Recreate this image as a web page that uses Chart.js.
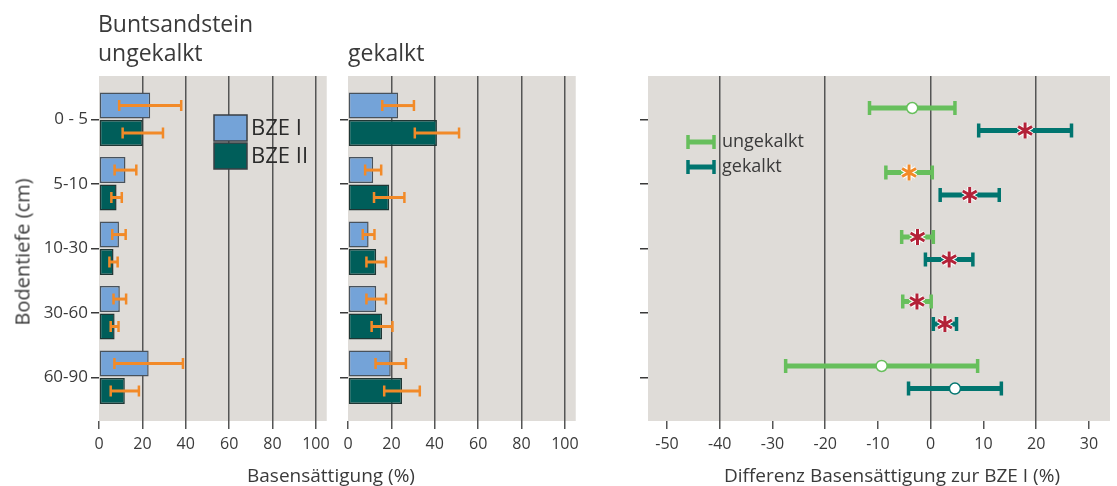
<!DOCTYPE html>
<html>
<head>
<meta charset="utf-8">
<script src="https://cdn.jsdelivr.net/npm/chart.js@4.4.1/dist/chart.umd.min.js"></script>
<style>
  body { margin: 0; background: #fff; font-family: "Open Sans", sans-serif; color: #3a3a3a; }
  #wrap { position: relative; width: 1117px; height: 486px; overflow: hidden; }
  .box { position: absolute; top: 0; height: 486px; }
  .txt { position: absolute; white-space: nowrap; }
</style>
</head>
<body>
<div id="wrap">
  <div class="box" style="left:0;width:336px"><canvas id="c1"></canvas></div>
  <div class="box" style="left:336px;width:249px"><canvas id="c2"></canvas></div>
  <div class="box" style="left:600px;width:517px"><canvas id="c3"></canvas></div>
  <div class="txt" style="left:98px;top:9px;font-size:23px;line-height:29px">Buntsandstein<br>ungekalkt</div>
  <div class="txt" style="left:348px;top:38px;font-size:23px;line-height:29px">gekalkt</div>
  <div class="txt" style="left:22px;top:252px;font-size:20px;transform:translate(-50%,-50%) rotate(-90deg)">Bodentiefe (cm)</div>
  <div class="txt" style="left:331px;top:463px;font-size:19px;line-height:24px;transform:translateX(-50%)">Basensättigung (%)</div>
  <div class="txt" style="left:892px;top:463px;font-size:19px;line-height:24px;transform:translateX(-50%)">Differenz Basensättigung zur BZE I (%)</div>
</div>
<script>
const depths = ['0 - 5', '5-10', '10-30', '30-60', '60-90'];

// Basensättigung (%), ungekalkt
const ungBzeI = [23.6, 12.2, 9.2, 9.6, 22.9];
const ungBzeIErr = [14.3, 5.0, 3.1, 2.9, 15.8];
const ungBzeII = [20.2, 8.1, 6.7, 7.2, 11.9];
const ungBzeIIErr = [9.3, 2.4, 1.9, 1.8, 6.5];

// Basensättigung (%), gekalkt
const gekBzeI = [23.1, 11.6, 9.5, 13.0, 19.7];
const gekBzeIErr = [7.3, 3.7, 2.7, 4.5, 7.0];
const gekBzeII = [41.0, 19.0, 13.0, 15.7, 24.9];
const gekBzeIIErr = [10.2, 7.0, 4.5, 4.8, 8.2];

// Differenz zur BZE I (%)
const diffUng = [-3.5, -4.1, -2.5, -2.6, -9.3];
const diffUngErr = [8.1, 4.4, 3.0, 2.7, 18.2];
const diffGek = [17.9, 7.4, 3.5, 2.7, 4.6];
const diffGekErr = [8.8, 5.6, 4.5, 2.2, 8.8];
// marker: n = nicht signifikant (Kreis), r = rotes Sternchen, o = oranges Sternchen
const sigUng = ['n', 'o', 'r', 'r', 'n'];
const sigGek = ['r', 'r', 'r', 'r', 'n'];

const TXT = '#3a3a3a';
const GRID = '#555';
const BG = '#dfdcd8';
const ORANGE = '#f28a28';
const GREEN = '#67bf5c';
const TEAL = '#00756f';
const RED = '#b32238';

Chart.defaults.font.family = '"Open Sans", sans-serif';
Chart.defaults.color = TXT;
Chart.defaults.animation = false;

const pts = (vals) => vals.map((v, i) => ({ x: v, y: i }));
const range = (vals, errs) => vals.map((v, i) => ({ x: [v - errs[i], v + errs[i]], y: i }));

// grauer Hintergrund der Zeichenfläche
const plotBg = {
    id: 'plotBg',
    beforeDraw(chart) {
        const a = chart.chartArea;
        chart.ctx.save();
        chart.ctx.fillStyle = BG;
        chart.ctx.fillRect(a.left, a.top, a.right - a.left, a.bottom - a.top);
        chart.ctx.restore();
    }
};

// orange Fehlerbalken an den Balkenenden
const errorBars = {
    id: 'errorBars',
    afterDatasetsDraw(chart) {
        const ctx = chart.ctx, xs = chart.scales.x;
        ctx.save();
        ctx.strokeStyle = ORANGE;
        chart.data.datasets.forEach((ds, di) => {
            chart.getDatasetMeta(di).data.forEach((bar, i) => {
                const v = ds.data[i].x, e = ds.errors[i];
                const x0 = xs.getPixelForValue(v - e), x1 = xs.getPixelForValue(v + e);
                ctx.lineWidth = 3;
                ctx.beginPath(); ctx.moveTo(x0, bar.y); ctx.lineTo(x1, bar.y); ctx.stroke();
                ctx.lineWidth = 2.5;
                ctx.beginPath();
                ctx.moveTo(x0, bar.y - 5.5); ctx.lineTo(x0, bar.y + 5.5);
                ctx.moveTo(x1, bar.y - 5.5); ctx.lineTo(x1, bar.y + 5.5);
                ctx.stroke();
            });
        });
        ctx.restore();
    }
};

const boxLegend = {
    id: 'boxLegend',
    afterDraw(chart) {
        const ctx = chart.ctx, a = chart.chartArea;
        ctx.save();
        chart.data.datasets.forEach((ds, i) => {
            const x = a.left + 115, y = a.top + 39 + i * 28;
            ctx.fillStyle = ds.backgroundColor;
            ctx.fillRect(x, y, 33, 26);
            ctx.strokeStyle = '#3a3f44';
            ctx.lineWidth = 1.5;
            ctx.strokeRect(x, y, 33, 26);
            ctx.fillStyle = '#2b2b2b';
            ctx.font = '22px "Open Sans"';
            ctx.textBaseline = 'middle';
            ctx.fillText(ds.label, x + 37, y + 14);
        });
        ctx.restore();
    }
};

function asterisk(ctx, x, y, color) {
    const r = 8;
    const dirs = [Math.PI / 2, Math.PI / 6, -Math.PI / 6];
    [['#ffffff', 5], [color, 3]].forEach(([c, w]) => {
        ctx.strokeStyle = c; ctx.lineWidth = w;
        ctx.beginPath();
        dirs.forEach(t => {
            ctx.moveTo(x - r * Math.cos(t), y - r * Math.sin(t));
            ctx.lineTo(x + r * Math.cos(t), y + r * Math.sin(t));
        });
        ctx.stroke();
    });
}

// Endkappen und Mittelwert-Marker im Differenz-Diagramm
const diffMarks = {
    id: 'diffMarks',
    afterDatasetsDraw(chart) {
        const ctx = chart.ctx, xs = chart.scales.x;
        ctx.save();
        chart.data.datasets.forEach((ds, di) => {
            chart.getDatasetMeta(di).data.forEach((bar, i) => {
                const [lo, hi] = ds.data[i].x;
                const x0 = xs.getPixelForValue(lo), x1 = xs.getPixelForValue(hi);
                ctx.strokeStyle = ds.backgroundColor;
                ctx.lineWidth = 3.5;
                ctx.beginPath();
                ctx.moveTo(x0, bar.y - 7); ctx.lineTo(x0, bar.y + 7);
                ctx.moveTo(x1, bar.y - 7); ctx.lineTo(x1, bar.y + 7);
                ctx.stroke();
                const xm = xs.getPixelForValue(ds.means[i]);
                const s = ds.sig[i];
                if (s === 'n') {
                    ctx.fillStyle = '#fff';
                    ctx.lineWidth = 1.5;
                    ctx.beginPath(); ctx.arc(xm, bar.y, 5.5, 0, Math.PI * 2); ctx.fill(); ctx.stroke();
                } else {
                    asterisk(ctx, xm, bar.y, s === 'o' ? ORANGE : RED);
                }
            });
        });
        // Legende
        const a = chart.chartArea;
        chart.data.datasets.forEach((ds, i) => {
            const x = a.left + 40, y = a.top + 66 + i * 25;
            ctx.strokeStyle = ds.backgroundColor;
            ctx.lineWidth = 5;
            ctx.beginPath(); ctx.moveTo(x, y); ctx.lineTo(x + 26, y); ctx.stroke();
            ctx.lineWidth = 3.5;
            ctx.beginPath();
            ctx.moveTo(x, y - 7); ctx.lineTo(x, y + 7);
            ctx.moveTo(x + 26, y - 7); ctx.lineTo(x + 26, y + 7);
            ctx.stroke();
            ctx.fillStyle = TXT;
            ctx.font = '18px "Open Sans"';
            ctx.textBaseline = 'middle';
            ctx.fillText(ds.label, x + 34, y);
        });
        ctx.restore();
    }
};

function depthAxis(labels, width) {
    return {
        type: 'linear', reverse: true, min: -0.671, max: 4.678, offset: false,
        ticks: { stepSize: 1, includeBounds: false, display: labels, padding: 3, font: { size: 17 },
                 callback: v => depths[v] },
        grid: { offset: false, drawOnChartArea: false, tickLength: 8, tickColor: TXT, lineWidth: 1.5 },
        border: { display: false },
        afterFit: s => { s.width = width; }
    };
}

function valueAxis(min, max, step, gridOn) {
    return {
        type: 'linear', min: min, max: max,
        ticks: { stepSize: step, includeBounds: false, maxRotation: 0, padding: 6, font: { size: 16 } },
        grid: { color: c => (c.tick && gridOn(c.tick.value)) ? GRID : 'rgba(0,0,0,0)',
                tickColor: GRID, tickLength: 8, lineWidth: 1.5 },
        border: { display: false },
        afterFit: s => { s.height = 65; }
    };
}

function barChart(id, vI, eI, vII, eII, withLabels, yWidth, extra) {
    return new Chart(document.getElementById(id), {
        type: 'bar',
        data: {
            datasets: [
                { label: 'BZE I', data: pts(vI), errors: eI, backgroundColor: '#74a3d8',
                  borderColor: '#48525c', borderWidth: 1.5, borderSkipped: false },
                { label: 'BZE II', data: pts(vII), errors: eII, backgroundColor: '#005e5a',
                  borderColor: '#1f3634', borderWidth: 1.5, borderSkipped: false }
            ]
        },
        options: {
            indexAxis: 'y',
            responsive: true,
            maintainAspectRatio: false,
            categoryPercentage: 0.85,
            barPercentage: 0.95,
            layout: { padding: { top: 76, right: 8, left: 0, bottom: 0 } },
            plugins: { legend: { display: false }, tooltip: { enabled: false } },
            scales: {
                x: valueAxis(0, 105, 20, v => v > 0),
                y: depthAxis(withLabels, yWidth)
            }
        },
        plugins: [plotBg, errorBars].concat(extra)
    });
}

barChart('c1', ungBzeI, ungBzeIErr, ungBzeII, ungBzeIIErr, true, 99, [boxLegend]);
barChart('c2', gekBzeI, gekBzeIErr, gekBzeII, gekBzeIIErr, false, 12, []);

new Chart(document.getElementById('c3'), {
    type: 'bar',
    data: {
        datasets: [
            { label: 'ungekalkt', data: range(diffUng, diffUngErr), means: diffUng, sig: sigUng,
              backgroundColor: GREEN, borderWidth: 0 },
            { label: 'gekalkt', data: range(diffGek, diffGekErr), means: diffGek, sig: sigGek,
              backgroundColor: TEAL, borderWidth: 0 }
        ]
    },
    options: {
        indexAxis: 'y',
        responsive: true,
        maintainAspectRatio: false,
        categoryPercentage: 0.70,
        barPercentage: 0.22,
        layout: { padding: { top: 76, right: 7, left: 0, bottom: 0 } },
        plugins: { legend: { display: false }, tooltip: { enabled: false } },
        scales: {
            x: valueAxis(-53.6, 34, 10, v => v % 20 === 0),
            y: depthAxis(false, 48)
        }
    },
    plugins: [plotBg, diffMarks]
});
</script>
</body>
</html>
